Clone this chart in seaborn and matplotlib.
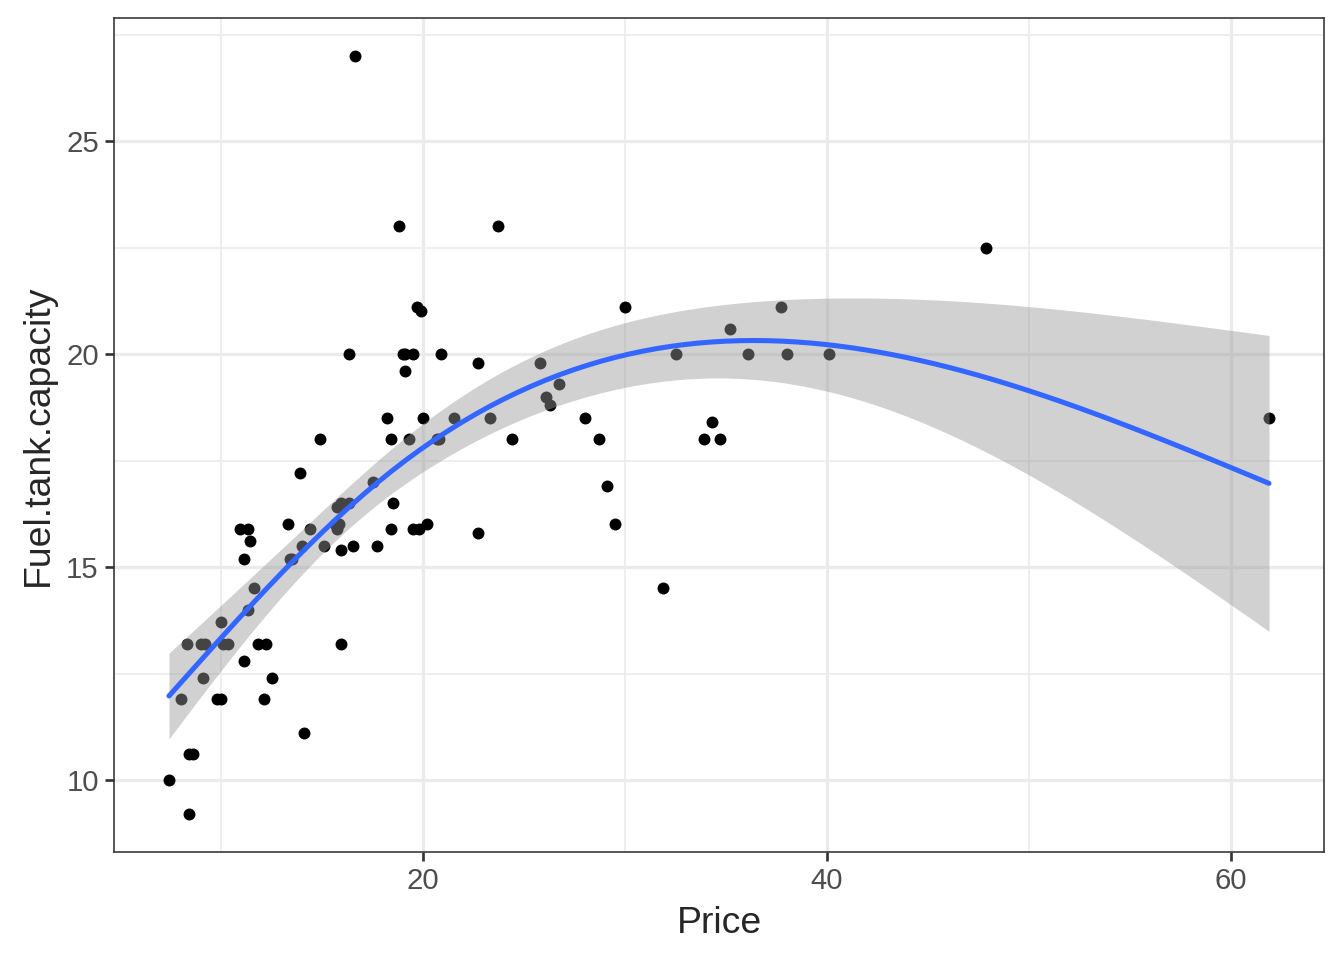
import numpy as np
import pandas as pd
import seaborn as sns
import matplotlib.pyplot as plt
from matplotlib.ticker import FixedLocator

# Cars93: Price vs Fuel.tank.capacity
price = [15.9, 33.9, 29.1, 37.7, 30.0, 15.7, 20.8, 23.7, 26.3, 34.7,
         40.1, 13.4, 11.4, 15.1, 15.9, 16.3, 16.6, 18.8, 38.0, 18.4,
         15.8, 29.5, 9.2, 11.3, 13.3, 19.0, 15.6, 25.8, 12.2, 19.3,
         7.4, 10.1, 11.3, 15.9, 14.0, 19.9, 20.2, 20.9, 8.4, 12.5,
         19.8, 12.1, 17.5, 8.0, 10.0, 10.0, 13.9, 47.9, 28.0, 35.2,
         34.3, 36.1, 8.3, 11.6, 16.5, 19.1, 32.5, 31.9, 61.9, 14.1,
         14.9, 10.3, 26.1, 11.8, 15.7, 19.1, 21.5, 13.5, 16.3, 19.5,
         20.7, 14.4, 9.0, 11.1, 17.7, 18.5, 24.4, 28.7, 11.1, 8.4,
         10.9, 19.5, 8.6, 9.8, 18.4, 18.2, 22.7, 9.1, 19.7, 20.0,
         23.3, 22.7, 26.7]
fuel_tank = [13.2, 18.0, 16.9, 21.1, 21.1, 16.4, 18.0, 23.0, 18.8, 18.0,
             20.0, 15.2, 15.6, 15.5, 16.5, 20.0, 27.0, 23.0, 20.0, 18.0,
             16.0, 16.0, 13.2, 14.0, 16.0, 20.0, 16.0, 19.8, 13.2, 18.0,
             10.0, 13.2, 15.9, 15.4, 15.5, 21.0, 16.0, 20.0, 10.6, 12.4,
             15.9, 11.9, 17.0, 11.9, 13.7, 11.9, 17.2, 22.5, 18.5, 20.6,
             18.4, 20.0, 13.2, 14.5, 15.5, 19.6, 20.0, 14.5, 18.5, 11.1,
             18.0, 13.2, 19.0, 13.2, 15.9, 20.0, 18.5, 15.2, 16.5, 20.0,
             18.0, 15.9, 13.2, 15.2, 15.5, 16.5, 18.0, 18.0, 12.8, 9.2,
             15.9, 15.9, 10.6, 11.9, 15.9, 18.5, 19.8, 12.4, 21.1, 18.5,
             18.5, 15.8, 19.3]

df = pd.DataFrame({'Price': price, 'Fuel.tank.capacity': fuel_tank})


# natural cubic spline basis, like splines::ns(x, df = 2)
def ns_basis(v, inner, lo, hi):
    kn = np.concatenate([[lo], inner, [hi]])
    K = len(kn)

    def d(k, t):
        return (np.clip(t - kn[k], 0, None) ** 3
                - np.clip(t - kn[-1], 0, None) ** 3) / (kn[-1] - kn[k])
    cols = [np.ones_like(v), v]
    for k in range(K - 2):
        cols.append(d(k, v) - d(K - 2, v))
    return np.column_stack(cols)


x = np.asarray(price, dtype=float)
y = np.asarray(fuel_tank, dtype=float)
n = len(x)
knots = np.quantile(x, [0.5])

X = ns_basis(x, knots, x.min(), x.max())
XtX_inv = np.linalg.inv(X.T @ X)
beta = XtX_inv @ X.T @ y
resid = y - X @ beta
dof = n - X.shape[1]
s2 = resid @ resid / dof
z = 1.959964
tq = z + (z ** 3 + z) / (4 * dof) + (5 * z ** 5 + 16 * z ** 3 + 3 * z) / (96 * dof ** 2)

xg = np.linspace(x.min(), x.max(), 80)
Xg = ns_basis(xg, knots, x.min(), x.max())
fit = Xg @ beta
se = np.sqrt(s2 * np.einsum('ij,jk,ik->i', Xg, XtX_inv, Xg))
smooth = pd.DataFrame({'Price': xg, 'fit': fit,
                       'lo': fit - tq * se, 'hi': fit + tq * se})

sns.set_style('white')
plt.rcParams['font.family'] = ['Liberation Sans', 'DejaVu Sans']

fig, ax = plt.subplots(figsize=(7, 5), dpi=192)

sns.scatterplot(data=df, x='Price', y='Fuel.tank.capacity', color='black',
                s=20, linewidth=0, ax=ax, zorder=2)
ax.fill_between(smooth['Price'], smooth['lo'], smooth['hi'],
                color='#999999', alpha=0.45, linewidth=0, zorder=3)
sns.lineplot(data=smooth, x='Price', y='fit', color='#3366FF', lw=1.9,
             ax=ax, zorder=4)

ax.set_xlim(4.675, 64.625)
ax.set_ylim(8.31, 27.89)
ax.xaxis.set_major_locator(FixedLocator([20, 40, 60]))
ax.xaxis.set_minor_locator(FixedLocator([10, 30, 50]))
ax.yaxis.set_major_locator(FixedLocator([10, 15, 20, 25]))
ax.yaxis.set_minor_locator(FixedLocator([12.5, 17.5, 22.5, 27.5]))

ax.grid(True, which='major', color='#EBEBEB', lw=1.2, zorder=0)
ax.grid(True, which='minor', color='#EBEBEB', lw=0.6, zorder=0)
ax.set_axisbelow(True)

for s in ax.spines.values():
    s.set_visible(True)
    s.set_color('#333333')
    s.set_linewidth(0.6)

ax.tick_params(which='major', length=3.2, width=1.0, color='#333333',
               labelsize=11, labelcolor='#4D4D4D', pad=2.5,
               bottom=True, left=True)
ax.tick_params(which='minor', length=0)
ax.set_xlabel('Price', fontsize=14, labelpad=4)
ax.set_ylabel('Fuel.tank.capacity', fontsize=14, labelpad=4)

fig.subplots_adjust(left=114 / 1344, right=1324 / 1344,
                    bottom=1 - 852 / 960, top=1 - 18 / 960)
fig.savefig('out.png', dpi=192)
